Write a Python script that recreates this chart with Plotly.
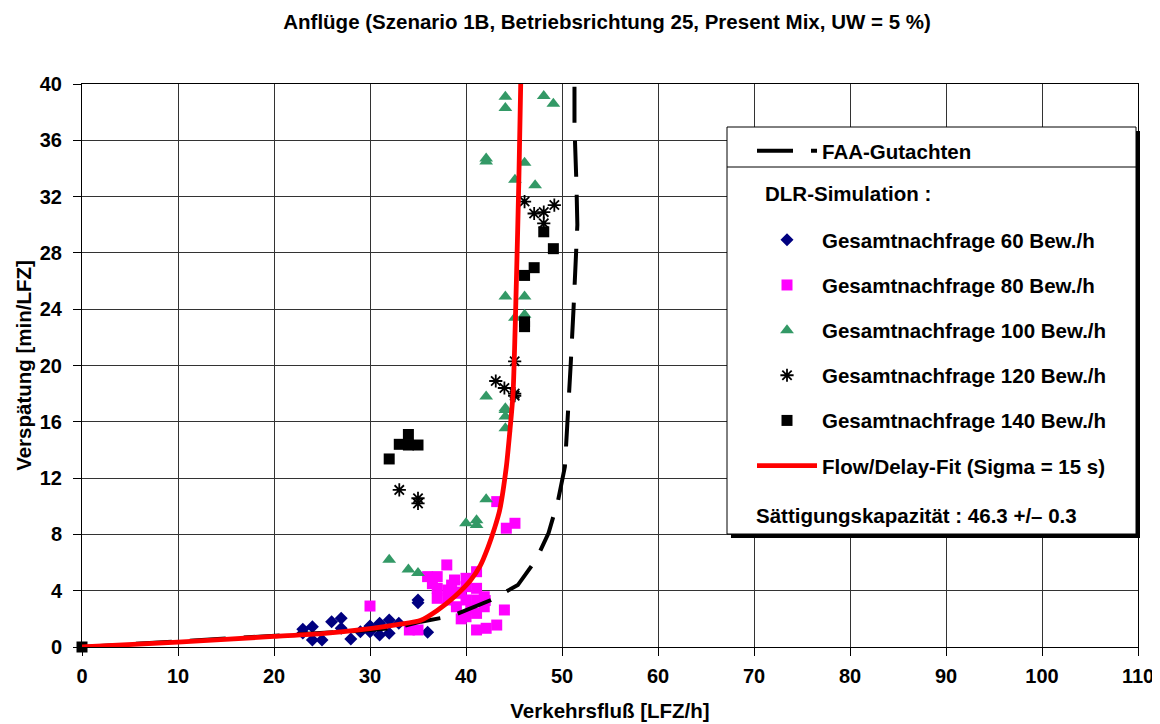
import plotly.graph_objects as go

title_text = "Anflüge (Szenario 1B, Betriebsrichtung 25, Present Mix, UW = 5 %)"
x_title = "Verkehrsfluß [LFZ/h]"
y_title = "Verspätung [min/LFZ]"

# FAA-Gutachten curve
faa_x = [0, 10, 20, 30, 33, 35.3, 38.5, 42.6, 45.4, 47.3, 48.6, 49.6, 50.3, 50.6, 50.9, 51.2, 51.5, 51.6, 51.5, 51.3, 51.3]
faa_y = [0, 0.4, 0.8, 1.2, 1.4, 1.8, 2.2, 3.34, 4.4, 6.2, 8.1, 10.45, 12.8, 16, 20, 24, 28, 30, 33, 37, 40]

# Flow/Delay-Fit
fit_x = [0, 10, 20, 25, 30, 33, 35.3, 37, 38.8, 40.5, 41.5, 42.3, 43, 43.5, 44.2, 44.55, 44.9, 45.25, 45.5, 45.7]
fit_y = [0, 0.35, 0.75, 0.95, 1.3, 1.6, 1.9, 2.6, 3.57, 4.76, 5.8, 7.1, 8.5, 9.7, 12.8, 15.2, 18, 26, 33, 40]

# Gesamtnachfrage 60 Bew./h
d60_x = [23, 23, 24, 24, 25, 26, 27, 27, 28, 29, 30, 30, 30, 31, 31, 32, 32, 33, 35, 35, 36]
d60_y = [1.26, 1.0, 1.44, 0.5, 0.5, 1.8, 2.04, 1.33, 0.57, 1.09, 1.44, 1.09, 1.5, 1.68, 0.85, 1.92, 0.97, 1.68, 3.34, 3.15, 1.04]

# Gesamtnachfrage 80 Bew./h
d80_x = [30.0, 34.1, 35.0, 36.0, 37.0, 38.0, 38.8, 40.0, 41.1, 37.0, 37.0, 38.1, 38.1, 39.0, 39.0, 40.0, 40.0, 40.0,
         41.1, 41.1, 41.9, 41.9, 41.1, 41.1, 42.1, 43.2, 44.0, 43.2, 44.2, 45.1, 42.0, 40.5, 39.5, 38.5, 36.5, 39.5]
d80_y = [2.91, 1.21, 1.21, 5.0, 5.0, 5.83, 4.76, 4.88, 5.35, 4.17, 3.46, 4.05, 3.34, 3.82, 2.86, 4.29, 3.34, 2.15,
         3.34, 2.39, 3.57, 2.86, 4.17, 1.21, 1.33, 1.56, 2.63, 10.33, 8.44, 8.79, 3.3, 2.7, 3.9, 4.4, 4.5, 2.0]

# Gesamtnachfrage 100 Bew./h
d100_x = [32.0, 34.0, 35.0, 40.0, 41.1, 41.1, 42.1, 44.1, 44.1, 44.1, 42.1, 44.1, 44.1, 46.1, 45.1, 46.1,
          45.1, 47.2, 42.1, 42.1, 46.1, 44.1, 44.1, 48.1, 49.1]
d100_y = [6.2, 5.5, 5.25, 8.8, 9.0, 8.67, 10.5, 16.84, 16.37, 15.54, 17.8, 16.96, 24.9, 24.9, 23.4, 23.6,
          33.2, 32.8, 34.7, 34.5, 34.4, 39.1, 38.3, 39.15, 38.6]

# Gesamtnachfrage 120 Bew./h
d120_x = [33.05, 35.0, 35.0, 43.1, 44.0, 45.07, 45.07, 45.07, 46.1, 47.1, 48.1, 49.2, 48.1]
d120_y = [11.16, 10.57, 10.2, 18.9, 18.4, 18.0, 17.85, 20.3, 31.65, 30.8, 30.9, 31.4, 30.1]

# Gesamtnachfrage 140 Bew./h
d140_x = [0, 32.0, 33.05, 34.0, 34.0, 35.0, 46.1, 46.1, 46.1, 47.1, 48.1, 49.1]
d140_y = [0, 13.36, 14.4, 15.1, 14.35, 14.35, 23.1, 22.76, 26.4, 26.95, 29.5, 28.3]

x_ticks = list(range(0, 111, 10))
y_ticks = list(range(0, 41, 4))

FONT = "Liberation Sans, Arial, sans-serif"
FS = 20.5

fig = go.Figure()

def add_markers(x, y, name, symbol, color, size, rank, lw=0, lcolor=None):
    fig.add_trace(go.Scatter(
        x=x, y=y, mode="markers", name=name, legend="legend2",
        legendgroup=name, legendrank=rank, cliponaxis=False,
        marker=dict(symbol=symbol, color=color, size=size,
                    line=dict(width=lw, color=lcolor or color)),
    ))

add_markers(d60_x, d60_y, "Gesamtnachfrage 60 Bew./h", "diamond", "#000080", 10, 1)
add_markers(d80_x, d80_y, "Gesamtnachfrage 80 Bew./h", "square", "#FF00FF", 11, 2)
add_markers(d100_x, d100_y, "Gesamtnachfrage 100 Bew./h", "triangle-up", "#339966", 12, 3)
add_markers(d120_x, d120_y, "Gesamtnachfrage 120 Bew./h", "asterisk-open", "#000000", 11, 4, lw=1.8)
add_markers(d140_x, d140_y, "Gesamtnachfrage 140 Bew./h", "square", "#000000", 11, 5)

fig.add_trace(go.Scatter(
    x=faa_x, y=faa_y, mode="lines", name="FAA-Gutachten", legend="legend",
    line=dict(color="#000000", width=4, dash="36px,18px"), cliponaxis=True,
))
fig.add_trace(go.Scatter(
    x=fit_x, y=fit_y, mode="lines", name="Flow/Delay-Fit (Sigma = 15 s)", legend="legend2",
    legendgroup="fit", legendrank=6, line=dict(color="#FF0000", width=4.8, shape="spline", smoothing=0.6),
))

# window pixel -> paper coords (plot spans window x 82..1138, y 84..647)
def px(xp):
    return (xp - 82) / 1056.0

def py(yp):
    return (647 - yp) / 563.0

shapes = [
    dict(type="rect", xref="paper", yref="paper", x0=px(731), x1=px(1140), y0=py(538), y1=py(131),
         fillcolor="#000000", line=dict(width=0), layer="above"),
    dict(type="rect", xref="paper", yref="paper", x0=px(727), x1=px(1136), y0=py(534), y1=py(127),
         fillcolor="#FFFFFF", line=dict(width=1, color="#000000"), layer="above"),
    dict(type="line", xref="paper", yref="paper", x0=px(727), x1=px(1138), y0=py(167), y1=py(167),
         line=dict(width=1, color="#000000"), layer="above"),
]

annotations = [
    dict(text="DLR-Simulation :", xref="paper", yref="paper", x=px(763), y=py(193),
         xanchor="left", yanchor="middle", showarrow=False,
         font=dict(family=FONT, size=FS, color="#000000", weight="bold")),
    dict(text="Sättigungskapazität : 46.3 +/– 0.3", xref="paper", yref="paper", x=px(754), y=py(515),
         xanchor="left", yanchor="middle", showarrow=False,
         font=dict(family=FONT, size=FS, color="#000000", weight="bold")),
]

# the page body has an 8px margin, so the figure is sized 8px smaller and offset accordingly
W, H = 1152, 716

fig.update_layout(
    width=W, height=H,
    margin=dict(l=74, r=22, t=76, b=77),
    paper_bgcolor="#FFFFFF", plot_bgcolor="#FFFFFF",
    font=dict(family=FONT, size=FS, color="#000000", weight="bold"),
    title=dict(text=title_text, x=0.52, xref="container", xanchor="center",
               y=1 - 14 / H, yref="container", yanchor="middle",
               font=dict(family=FONT, size=FS, color="#000000", weight="bold")),
    xaxis=dict(range=[0, 110], tickvals=x_ticks, ticktext=[str(v) for v in x_ticks],
               showgrid=True, gridcolor="#333333", gridwidth=1, zeroline=False,
               showline=True, linecolor="#000000", linewidth=1, mirror=True,
               ticks="outside", ticklen=8, tickcolor="#000000", automargin=False,
               tickfont=dict(size=20), ticklabelstandoff=3,
               title=dict(text=x_title, standoff=17, font=dict(size=FS, weight="bold"))),
    yaxis=dict(range=[0, 40], tickvals=y_ticks, ticktext=[str(v) for v in y_ticks],
               showgrid=True, gridcolor="#333333", gridwidth=1, zeroline=False,
               showline=True, linecolor="#000000", linewidth=1, mirror=True,
               ticks="outside", ticklen=8, tickcolor="#000000", automargin=False,
               tickfont=dict(size=20), ticklabelstandoff=7,
               title=dict(text=y_title, standoff=2, font=dict(size=FS, weight="bold"))),
    showlegend=True,
    legend=dict(x=px(752), y=py(151), xanchor="left", yanchor="middle",
                bgcolor="rgba(0,0,0,0)", borderwidth=0, itemwidth=60,
                font=dict(family=FONT, size=FS, color="#000000", weight="bold")),
    legend2=dict(x=px(752), y=py(353), xanchor="left", yanchor="middle",
                 bgcolor="rgba(0,0,0,0)", borderwidth=0, itemwidth=60,
                 tracegroupgap=15.5, traceorder="grouped",
                 font=dict(family=FONT, size=FS, color="#000000", weight="bold")),
    shapes=shapes,
    annotations=annotations,
)

fig.write_html("out.html")
